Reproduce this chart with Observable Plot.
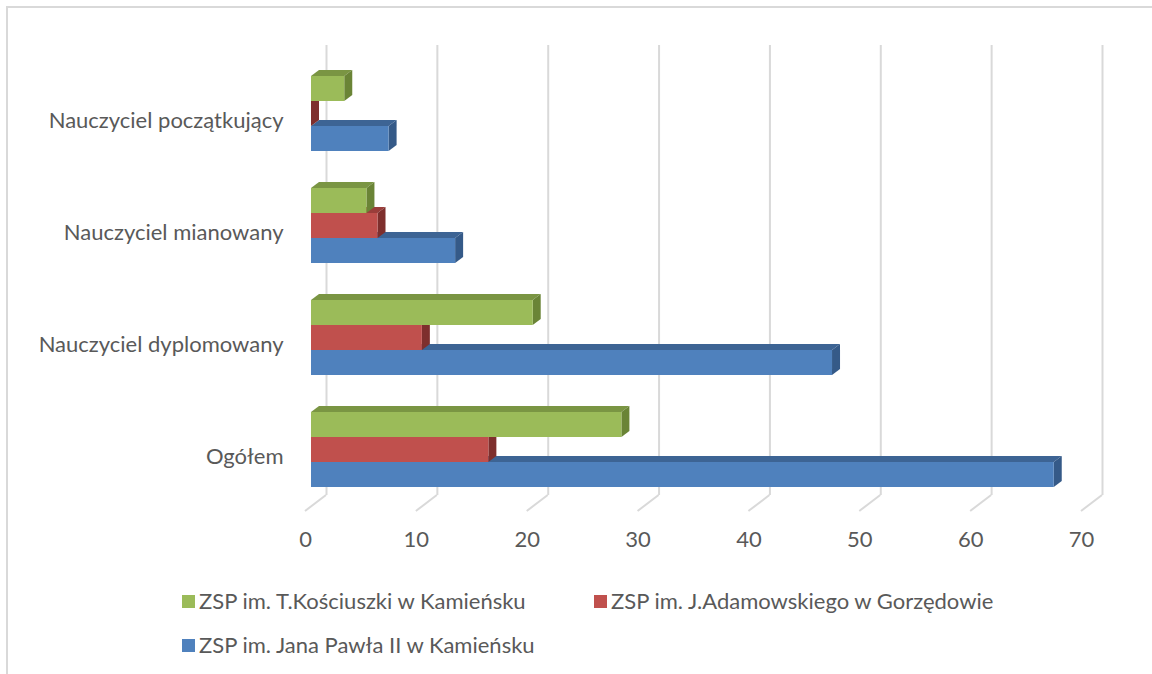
<!DOCTYPE html>
<html><head><meta charset="utf-8">
<script src="https://cdn.jsdelivr.net/npm/d3@7"></script>
<script src="https://cdn.jsdelivr.net/npm/@observablehq/plot@0.6"></script>
<style>
html,body{margin:0;padding:0;background:#fff;width:1152px;height:674px;overflow:hidden;font-family:Lato,"Open Sans",sans-serif;}
#frame{position:absolute;left:6px;top:6px;width:1200px;height:720px;border:2px solid #d9d9d9;box-sizing:border-box;}
#chart{position:absolute;left:0;top:0;}
.leg{position:absolute;display:flex;align-items:center;font-size:22px;color:#595959;white-space:nowrap;line-height:1;}
.leg span.sw{display:inline-block;width:13px;height:13px;margin-right:4px;}
</style></head><body>
<div id="frame"></div>
<div id="chart"></div>
<div id="legend"></div>
<script>
const categories = ["Nauczyciel początkujący", "Nauczyciel mianowany", "Nauczyciel dyplomowany", "Ogółem"];
const seriesNames = ["ZSP im. T.Kościuszki w Kamieńsku", "ZSP im. J.Adamowskiego w Gorzędowie", "ZSP im. Jana Pawła II w Kamieńsku"];
const kosciuszki = [3, 5, 20, 28];
const adamowskiego = [0, 6, 10, 16];
const janaPawla = [7, 13, 47, 67];
const xTicks = [0, 10, 20, 30, 40, 50, 60, 70];
const frontColors = ["#9BBB59", "#C0504D", "#4F81BD"];
const topColors = ["#7A9543", "#9A3D3A", "#3D6494"];
const sideColors = ["#6A8436", "#7E2F2D", "#355A88"];

const seriesValues = [kosciuszki, adamowskiego, janaPawla];
const rows = [];
categories.forEach((c, i) => seriesValues.forEach((vals, s) => rows.push({category: c, series: s, value: vals[i]})));

const FRONT_DX = -15, DEPTH_X = 8, DEPTH_Y = 6, WALL_DY = -11, FLOOR_DX = -21, FLOOR_DY = 16;

function bars3d(index, scales, values, dimensions) {
  const x = scales.x, y = scales.y;
  const sub = y.bandwidth() / 3;
  const g = d3.create("svg:g");
  for (const cat of categories) {
    for (let s = 2; s >= 0; s--) {
      const d = rows.find(r => r.category === cat && r.series === s);
      const x0 = x(0) + FRONT_DX, x1 = x(d.value) + FRONT_DX;
      const yT = y(cat) + s * sub, yB = yT + sub;
      g.append("path").attr("d", `M${x0},${yT}L${x1},${yT}L${x1 + DEPTH_X},${yT - DEPTH_Y}L${x0 + DEPTH_X},${yT - DEPTH_Y}Z`).attr("fill", topColors[s]);
      g.append("path").attr("d", `M${x1},${yT}L${x1 + DEPTH_X},${yT - DEPTH_Y}L${x1 + DEPTH_X},${yB - DEPTH_Y}L${x1},${yB}Z`).attr("fill", sideColors[s]);
      g.append("rect").attr("x", x0).attr("y", yT).attr("width", Math.max(0, x1 - x0)).attr("height", sub).attr("fill", frontColors[s]);
    }
  }
  return g.node();
}

function floorLines(index, scales, values, dimensions) {
  const x = scales.x;
  const yBack = dimensions.height - dimensions.marginBottom + WALL_DY;
  const g = d3.create("svg:g").attr("stroke", "#d9d9d9").attr("stroke-width", 2);
  for (const v of xTicks) {
    g.append("line").attr("x1", x(v)).attr("y1", yBack).attr("x2", x(v) + FLOOR_DX).attr("y2", yBack + FLOOR_DY);
  }
  return g.node();
}

const chart = Plot.plot({
  width: 1152,
  height: 570,
  marginLeft: 326,
  marginRight: 50,
  marginTop: 56,
  marginBottom: 64,
  style: {fontFamily: "Lato, 'Open Sans', sans-serif", fontSize: "22px", color: "#595959", background: "transparent"},
  x: {type: "linear", domain: [0, 70], axis: null},
  y: {type: "band", domain: categories, paddingInner: 1 / 3, paddingOuter: 1 / 6, axis: null},
  marks: [
    Plot.ruleX(xTicks, {x: d => d, stroke: "#d9d9d9", strokeWidth: 2, dy: WALL_DY}),
    floorLines,
    bars3d,
    Plot.text(xTicks, {x: d => d, frameAnchor: "bottom", dy: 40, dx: FLOOR_DX, text: d => String(d), fill: "#595959", fontSize: 22}),
    Plot.text(categories, {y: d => d, frameAnchor: "left", dx: -43, dy: 7, textAnchor: "end", text: d => d, fill: "#595959", fontSize: 22})
  ]
});
document.getElementById("chart").appendChild(chart);

const legendPos = [[182, 601], [594, 601], [182, 645]];
const legend = document.getElementById("legend");
seriesNames.forEach((name, s) => {
  const el = document.createElement("div");
  el.className = "leg";
  el.style.left = legendPos[s][0] + "px";
  el.style.top = (legendPos[s][1] - 11) + "px";
  el.style.height = "22px";
  el.innerHTML = `<span class="sw" style="background:${frontColors[s]}"></span><span>${name}</span>`;
  legend.appendChild(el);
});
</script>
</body></html>
